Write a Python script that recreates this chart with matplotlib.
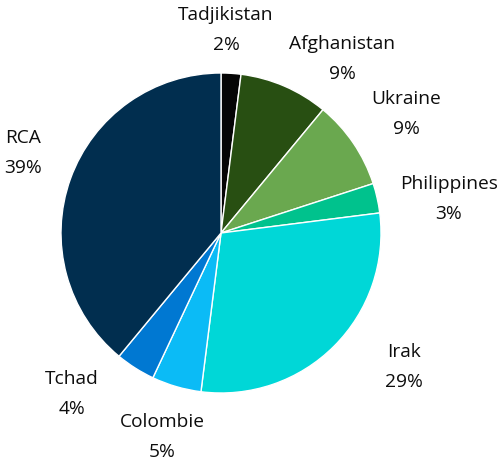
import numpy as np
import matplotlib.pyplot as plt

countries = ['Tadjikistan', 'Afghanistan', 'Ukraine', 'Philippines',
             'Irak', 'Colombie', 'Tchad', 'RCA']
shares = [2, 9, 9, 3, 29, 5, 4, 39]
colors = ['#050505', '#284f12', '#6aa84f', '#00c28d',
          '#00d7d7', '#0bbbf6', '#0078d2', '#012e4f']

# label centres (pixels from top-left)
label_px = [(226, 15), (342, 44), (406, 99), (449, 184),
            (404, 352), (162, 422), (72, 379), (23, 138)]

W, H = 504, 470
cx, cy, r = 221, 233, 160

fig = plt.figure(figsize=(W / 100, H / 100), dpi=100)
ax = fig.add_axes([0, 0, 1, 1])
ax.pie(shares, colors=colors, startangle=90, counterclock=False,
       radius=1, wedgeprops=dict(edgecolor='white', linewidth=1))
ax.set_xlim(-cx / r, (W - cx) / r)
ax.set_ylim((cy - H) / r, cy / r)
ax.set_aspect('equal')
ax.axis('off')

for name, val, (px, py) in zip(countries, shares, label_px):
    x = (px - cx) / r
    y = (cy - py) / r
    ax.text(x, y, name, ha='center', va='center', fontsize=13.8,
            family='Open Sans', color='#0d0d0d')
    ax.text(x, y - 30 / r, f'{val}%', ha='center', va='center',
            fontsize=13.8, family='Open Sans', color='#0d0d0d')

fig.savefig('out.png', dpi=100)
